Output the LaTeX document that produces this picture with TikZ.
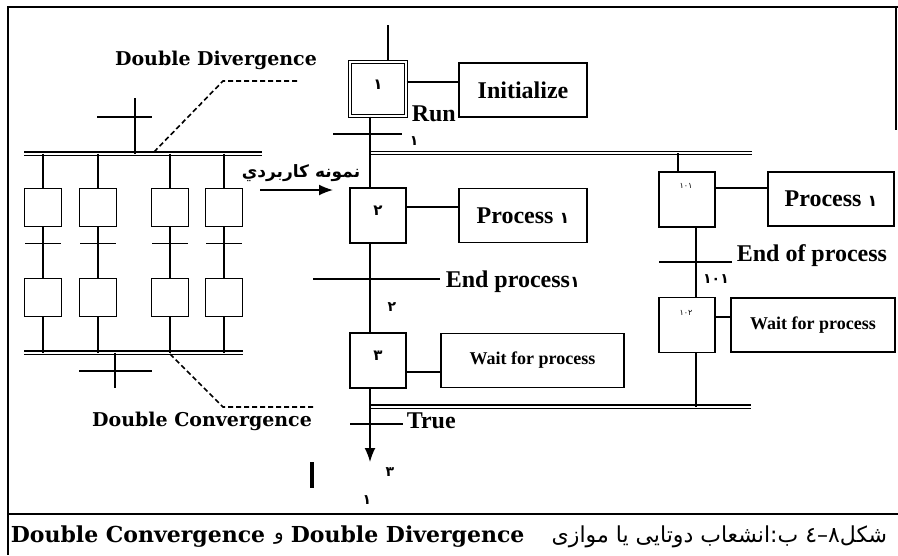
\documentclass[tikz,border=0pt]{standalone}
\usepackage{fontspec}
\setmainfont{Liberation Serif}
\newfontfamily\wideserif{DejaVu Serif}
\newfontfamily\arabicfont[Script=Arabic]{DejaVu Sans}
\TeXXeTstate=1
\usetikzlibrary{arrows.meta}

\begin{document}
\begin{tikzpicture}[x=1pt, y=-1pt, line width=1.6pt]
  \tikzstyle{stepbox}=[draw, minimum width=56pt, minimum height=55pt, inner sep=0pt, text height=5pt, text depth=5pt, font=\arabicfont\bfseries\fontsize{15}{16}\selectfont]
  \tikzstyle{actbox}=[draw, minimum height=54pt, inner sep=0pt, font=\bfseries\fontsize{24}{26}\selectfont]
  \tikzstyle{minibox}=[draw, minimum width=37pt, minimum height=38pt, inner sep=0pt]
  \tikzstyle{bar}=[double, double distance=2pt, line width=1.4pt]
  \tikzstyle{lead}=[dash pattern=on 5pt off 3pt]
  \tikzstyle{txt}=[inner sep=0pt, font=\bfseries\fontsize{24}{26}\selectfont]
  \tikzstyle{num}=[inner sep=0pt, font=\arabicfont\bfseries\fontsize{14}{16}\selectfont]
  \tikzstyle{tinynum}=[inner sep=0pt, font=\arabicfont\fontsize{8}{9}\selectfont]
  \tikzstyle{wide}=[inner sep=0pt, font=\wideserif\bfseries\fontsize{19}{22}\selectfont]
  \tikzstyle{tip}=[-{Latex[length=14pt,width=11pt]}]

  \useasboundingbox (0,0) rectangle (898,555);

  % frame and caption rule
  \draw (7,7) -- (898,7);
  \draw (8,7) -- (8,555);
  \draw (896,7) -- (896,130);
  \draw[line width=2pt] (8,514) -- (898,514);

  % main sequence
  \coordinate (entry) at (388,25);
  \coordinate (main) at (370,0);
  \node[stepbox, double, double distance=2.2pt, line width=1.2pt, minimum height=54pt] (s1) at (378,89) {١};
  \node[actbox, minimum width=128pt] (init) at (523,90) {Initialize};
  \draw (entry) -- (entry |- s1.north);
  \draw ([yshift=7pt]s1.east) -- ([yshift=7pt]s1.east -| init.west);
  \node[txt, anchor=west] (run) at (411,114) {Run};
  \coordinate (t1) at (370,134);
  \draw ([xshift=-37pt]t1) -- ([xshift=32pt]t1);
  \node[num, anchor=west] (t1n) at (409,141) {١};

  \coordinate (divL) at (370,153);
  \coordinate (divR) at (752,153);
  \draw[bar] (divL) -- (divR);

  \node[stepbox] (s2) at (378,215.5) {٢};
  \node[actbox, minimum width=128pt] (proc1) at (523,215.5) {Process {\arabicfont\fontsize{16}{16}\selectfont ١}};
  \draw (s1.south -| main) -- (s2.north -| main);
  \draw ([yshift=8.5pt]s2.east) -- ([yshift=8.5pt]s2.east -| proc1.west);

  \coordinate (t2) at (370,279);
  \draw ([xshift=-57pt]t2) -- ([xshift=70pt]t2);
  \node[txt, anchor=west] (t2l) at (445,282) {End process{\arabicfont\fontsize{16}{16}\selectfont ١}};
  \node[num] (t2n) at (392,307) {٢};

  \node[stepbox] (s3) at (378,360.5) {٣};
  \node[actbox, minimum width=183pt, font=\bfseries\fontsize{18}{20}\selectfont] (wait1) at (532.5,360.5) {Wait for process};
  \draw (s2.south -| main) -- (s3.north -| main);
  \draw ([yshift=-11.5pt]s3.east) -- ([yshift=-11.5pt]s3.east -| wait1.west);

  \coordinate (cvL) at (370,406.5);
  \coordinate (cvR) at (751,406.5);
  \draw[bar] (cvL) -- (cvR);
  \coordinate (t3) at (370,424);
  \draw ([xshift=-20pt]t3) -- ([xshift=33pt]t3);
  \node[txt, anchor=west] (t3l) at (406,421) {True};
  \coordinate (end) at (370,462);
  \draw[tip] (s3.south -| main) -- (end);
  \node[num] (t3n) at (390,472) {٣};
  \node[num] (t3m) at (367,500) {١};
  \draw[line width=3.5pt] (312,462) -- (312,488);

  % parallel branch
  \coordinate (rb) at (678,153);
  \coordinate (rv) at (696,0);
  \node[stepbox] (s101) at (687,199.5) {};
  \node[tinynum] (n101) at (686,186) {١٠١};
  \node[actbox, minimum width=126pt] (proc2) at (831,199) {Process {\arabicfont\fontsize{16}{16}\selectfont ١}};
  \draw (rb) -- (rb |- s101.north);
  \draw ([yshift=11.5pt]s101.east) -- ([yshift=11.5pt]s101.east -| proc2.west);
  \coordinate (t4) at (696,262);
  \draw ([xshift=-37pt]t4) -- ([xshift=36pt]t4);
  \node[txt, anchor=west] (t4l) at (736,256) {End of process};
  \node[num] (t4n) at (716,279) {١٠١};
  \node[stepbox] (s102) at (687,325) {};
  \node[tinynum] (n102) at (686,313) {١٠٢};
  \node[actbox, minimum width=164pt, font=\bfseries\fontsize{18}{20}\selectfont] (wait2) at (813,325) {Wait for process};
  \draw (s101.south -| rv) -- (s102.north -| rv);
  \draw ([yshift=8pt]s102.east) -- ([yshift=8pt]s102.east -| wait2.west);
  \draw (s102.south -| rv) -- (rv |- cvR);

  % double divergence / convergence sketch
  \coordinate (in) at (135,98);
  \coordinate (tin) at (135,117);
  \coordinate (dl) at (24,153.5);
  \coordinate (dr) at (262,153.5);
  \coordinate (cl) at (24,352.5);
  \coordinate (cr) at (243,352.5);
  \coordinate (out) at (115,388);
  \coordinate (tout) at (115,371);
  \draw[bar] (dl) -- (dr);
  \draw[bar] (cl) -- (cr);
  \draw (in) -- (in |- dl);
  \draw ([xshift=-38pt]tin) -- ([xshift=17pt]tin);
  \draw (out |- cl) -- (out);
  \draw ([xshift=-36pt]tout) -- ([xshift=37pt]tout);

  \foreach \i/\x in {1/43, 2/98, 3/170, 4/224} {
    \node[minibox] (u\i) at (\x,207.5) {};
    \node[minibox] (d\i) at (\x,297.5) {};
    \draw (u\i.north |- dl) -- (u\i.north);
    \draw (u\i.south) -- (d\i.north);
    \draw ([xshift=-18pt,yshift=-16pt]u\i.south) -- ([xshift=18pt,yshift=-16pt]u\i.south);
    \draw (d\i.south) -- (d\i.south |- cl);
  }

  \node[wide] (ddiv) at (216,60) {Double Divergence};
  \coordinate (ddk) at (223,81);
  \coordinate (ddend) at (152,154);
  \draw[lead] ([xshift=74pt]ddk) -- (ddk) -- (ddend);

  \node[wide] (dconv) at (202,421) {Double Convergence};
  \coordinate (dck) at (223,407);
  \coordinate (dcend) at (170,354);
  \draw[lead] (dcend) -- (dck) -- ([xshift=90pt]dck);

  \node[inner sep=0pt, font=\arabicfont\bfseries\fontsize{17}{19}\selectfont] (ex) at (301,173) {\beginR نمونه كاربردي\endR};
  \coordinate (exa) at (260,190);
  \coordinate (exb) at (333,190);
  \draw[tip] (exa) -- (exb);

  % caption
  \node[wide, anchor=west, font=\wideserif\bfseries\fontsize{22}{26}\selectfont] (capc) at (10,537) {Double Convergence};
  \node[inner sep=0pt, font=\arabicfont\fontsize{20}{22}\selectfont] (capo) at (279,539) {و};
  \node[wide, anchor=west, font=\wideserif\bfseries\fontsize{22}{26}\selectfont] (capd) at (290,537) {Double Divergence};
  \node[inner sep=0pt, anchor=east, font=\arabicfont\fontsize{22}{24}\selectfont] (capp) at (888,537) {\beginR شكل۸–٤ ب:انشعاب دوتايی يا موازی\endR};
\end{tikzpicture}
\end{document}
